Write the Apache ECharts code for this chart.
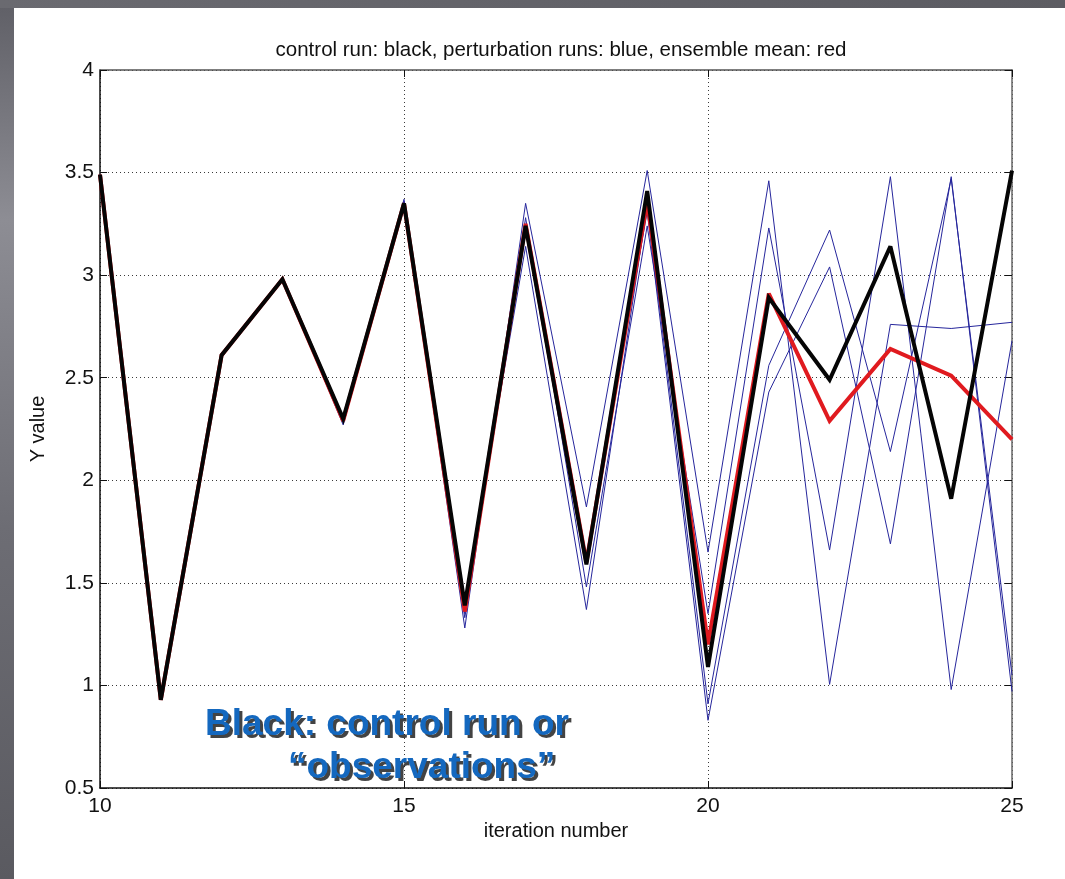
<!DOCTYPE html>
<html>
<head>
<meta charset="utf-8">
<script src="https://cdn.jsdelivr.net/npm/echarts@6/dist/echarts.min.js"></script>
<style>
html,body{margin:0;padding:0;background:#fff;}
#chart{width:1065px;height:879px;}
</style>
</head>
<body>
<div id="chart"></div>
<script>
// ---- data ----
const iterations = [10, 11, 12, 13, 14, 15, 16, 17, 18, 19, 20, 21, 22, 23, 24, 25];
const controlRun = [3.49, 0.93, 2.61, 2.98, 2.30, 3.35, 1.39, 3.24, 1.59, 3.41, 1.09, 2.89, 2.49, 3.14, 1.91, 3.51];
const ensembleMean = [3.49, 0.93, 2.61, 2.98, 2.29, 3.35, 1.36, 3.25, 1.60, 3.36, 1.20, 2.91, 2.29, 2.64, 2.51, 2.20];
const perturbation1 = [3.49, 0.94, 2.61, 2.99, 2.28, 3.36, 1.28, 3.35, 1.87, 3.51, 1.65, 3.46, 1.005, 2.76, 2.74, 2.77];
const perturbation2 = [3.48, 0.93, 2.62, 2.98, 2.27, 3.37, 1.35, 3.28, 1.48, 3.24, 1.35, 3.23, 1.66, 3.48, 0.98, 2.68];
const perturbation3 = [3.48, 0.93, 2.60, 2.98, 2.29, 3.35, 1.42, 3.14, 1.37, 3.34, 0.91, 2.56, 3.22, 2.14, 3.47, 1.05];
const perturbation4 = [3.49, 0.94, 2.61, 2.97, 2.30, 3.34, 1.33, 3.25, 1.62, 3.31, 0.83, 2.43, 3.04, 1.69, 3.48, 0.97];
const perturbationRuns = [perturbation1, perturbation2, perturbation3, perturbation4];
const xTicks = [10, 15, 20, 25];
const yTicks = [0.5, 1, 1.5, 2, 2.5, 3, 3.5, 4];
const titleText = 'control run: black, perturbation runs: blue, ensemble mean: red';
const xName = 'iteration number';
const yName = 'Y value';
const noteLine1 = 'Black: control run or';
const noteLine2 = '\u201Cobservations\u201D';

const pairs = ys => iterations.map((x, i) => [x, ys[i]]);
const FONT = '"Liberation Sans", Arial, sans-serif';

const chart = echarts.init(document.getElementById('chart'), null, {renderer: 'canvas'});

const gridLine = {show: true, lineStyle: {color: '#3a3a3a', type: [1, 3], width: 1}};
const baseX = {
  type: 'value', min: xTicks[0], max: xTicks[xTicks.length - 1], interval: 5,
  axisLine: {show: true, lineStyle: {color: '#111', width: 1.5}},
  axisTick: {show: true, inside: true, length: 7, lineStyle: {color: '#111'}},
};
const baseY = {
  type: 'value', min: yTicks[0], max: yTicks[yTicks.length - 1], interval: 0.5,
  axisLine: {show: true, lineStyle: {color: '#111', width: 1.5}},
  axisTick: {show: true, inside: true, length: 7, lineStyle: {color: '#111'}},
};

const series = [];
perturbationRuns.forEach((run, k) => {
  series.push({
    name: 'perturbation ' + (k + 1), type: 'line', data: pairs(run),
    xAxisIndex: 0, yAxisIndex: 0,
    showSymbol: false, symbol: 'none', silent: true, z: 2,
    lineStyle: {color: '#26269c', width: 1, join: 'miter'}
  });
});
series.push({
  name: 'ensemble mean', type: 'line', data: pairs(ensembleMean),
  showSymbol: false, symbol: 'none', silent: true, z: 3,
  lineStyle: {color: '#e01a1f', width: 4, join: 'miter', miterLimit: 3}
});
series.push({
  name: 'control run', type: 'line', data: pairs(controlRun),
  showSymbol: false, symbol: 'none', silent: true, z: 4,
  lineStyle: {color: '#050505', width: 4, join: 'miter', miterLimit: 3}
});

const note = (txt, left, top, fill, z) => ({
  type: 'text', left: left, top: top, z: z, silent: true,
  style: {text: txt, font: 'bold 37px ' + FONT, fill: fill}
});

chart.setOption({
  animation: false,
  backgroundColor: '#ffffff',
  title: {
    text: titleText, left: 556, top: 35, textAlign: 'center',
    textStyle: {fontFamily: FONT, fontSize: 20.5, fontWeight: 'normal', color: '#111'}
  },
  grid: {left: 100, right: 53, top: 70, bottom: 91, containLabel: false},
  xAxis: [
    Object.assign({}, baseX, {
      position: 'bottom',
      name: xName, nameLocation: 'middle', nameGap: 33,
      nameTextStyle: {fontFamily: FONT, fontSize: 20, color: '#111'},
      axisLabel: {show: true, margin: 8, fontFamily: FONT, fontSize: 21, color: '#111'},
      splitLine: gridLine
    }),
    Object.assign({}, baseX, {
      position: 'top',
      axisLine: {show: true, lineStyle: {color: '#555', width: 1.5}},
      axisLabel: {show: false}, splitLine: {show: false}
    })
  ],
  yAxis: [
    Object.assign({}, baseY, {
      position: 'left',
      name: yName, nameLocation: 'middle', nameGap: 52, nameRotate: 90,
      nameTextStyle: {fontFamily: FONT, fontSize: 20, color: '#111'},
      axisLabel: {show: true, margin: 6, fontFamily: FONT, fontSize: 21, color: '#111',
        formatter: v => String(v)},
      splitLine: gridLine
    }),
    Object.assign({}, baseY, {
      position: 'right',
      axisLine: {show: true, lineStyle: {color: '#666', width: 1.5}},
      axisLabel: {show: false}, splitLine: {show: false}
    })
  ],
  graphic: [
    {type: 'rect', left: 0, top: 0, z: 100, silent: true,
      shape: {width: 14, height: 879},
      style: {fill: new echarts.graphic.LinearGradient(0, 0, 0, 1, [
        {offset: 0, color: '#5f5f66'}, {offset: 0.25, color: '#8d8d94'},
        {offset: 0.6, color: '#6d6d74'}, {offset: 1, color: '#5a5a60'}])}},
    {type: 'rect', left: 0, top: 0, z: 100, silent: true,
      shape: {width: 1065, height: 8},
      style: {fill: new echarts.graphic.LinearGradient(0, 0, 1, 0, [
        {offset: 0, color: '#6a6a70'}, {offset: 1, color: '#5c5c62'}])}},
    note(noteLine1, 208, 709, 'rgba(20,20,20,0.8)', 49),
    note(noteLine2, 291, 752, 'rgba(20,20,20,0.8)', 49),
    note(noteLine1, 205, 706, '#1468bf', 50),
    note(noteLine2, 288, 749, '#1468bf', 50)
  ],
  series: series
});
</script>
</body>
</html>
